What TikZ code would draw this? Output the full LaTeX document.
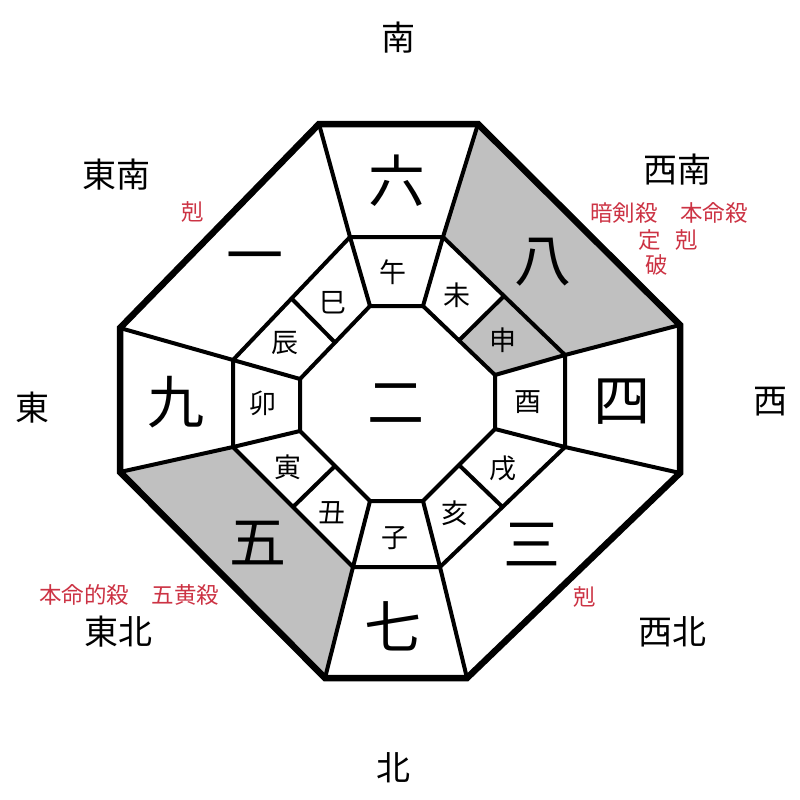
\documentclass[tikz,border=0pt]{standalone}
\usepackage{fontspec}
\usepackage{tikz}
\usetikzlibrary{calc}
\newfontfamily\jpfont{Noto Sans CJK JP}
\definecolor{shadecolor}{RGB}{192,192,192}
\definecolor{signcolor}{RGB}{204,51,68}

\begin{document}
\begin{tikzpicture}[
    x=1pt, y=-1pt,
    frame/.style={line width=6.5pt, line join=miter},
    cell/.style={line width=4pt, line join=miter},
    dir/.style={font=\jpfont\fontsize{34}{34}\selectfont, inner sep=0pt},
    star/.style={font=\jpfont\fontsize{57}{57}\selectfont, inner sep=0pt},
    zodiac/.style={font=\jpfont\fontsize{27}{27}\selectfont, inner sep=0pt},
    sign/.style={text=signcolor, font=\jpfont\fontsize{22.5}{22.5}\selectfont, inner sep=0pt}
]

\useasboundingbox (0,0) rectangle (800,800);

\coordinate (o1) at (319,124);
\coordinate (o2) at (478,124);
\coordinate (o3) at (680,325);
\coordinate (o4) at (680,473);
\coordinate (o5) at (467,678);
\coordinate (o6) at (325,678);
\coordinate (o7) at (120,472);
\coordinate (o8) at (120,328);

\coordinate (m1) at (350,237);
\coordinate (m2) at (443,237);
\coordinate (m3) at (565,355);
\coordinate (m4) at (565,447);
\coordinate (m5) at (440,567);
\coordinate (m6) at (353,567);
\coordinate (m7) at (233,447);
\coordinate (m8) at (233,360);

\coordinate (i1) at (370,306);
\coordinate (i2) at (423,306);
\coordinate (i3) at (495,375);
\coordinate (i4) at (495,429);
\coordinate (i5) at (423,501);
\coordinate (i6) at (370,501);
\coordinate (i7) at (300,431);
\coordinate (i8) at (300,379);

\coordinate (ine) at ($(i2)!0.5!(i3)$);
\coordinate (ise) at ($(i4)!0.5!(i5)$);
\coordinate (isw) at ($(i6)!0.5!(i7)$);
\coordinate (inw) at ($(i8)!0.5!(i1)$);
\coordinate (mne) at ($(m2)!0.5!(m3)$);
\coordinate (mse) at ($(m4)!0.5!(m5)$);
\coordinate (msw) at ($(m6)!0.5!(m7)$);
\coordinate (mnw) at ($(m8)!0.5!(m1)$);

\fill[shadecolor] (o2) -- (o3) -- (m3) -- (m2) -- cycle;
\fill[shadecolor] (o6) -- (o7) -- (m7) -- (m6) -- cycle;
\fill[shadecolor] (ine) -- (i3) -- (m3) -- (mne) -- cycle;

\draw[cell] (i1) -- (i2) -- (i3) -- (i4) -- (i5) -- (i6) -- (i7) -- (i8) -- cycle;
\draw[cell] (m1) -- (m2) -- (m3) -- (m4) -- (m5) -- (m6) -- (m7) -- (m8) -- cycle;

\draw[cell] (i1) -- (m1) -- (o1);
\draw[cell] (i2) -- (m2) -- (o2);
\draw[cell] (i3) -- (m3) -- (o3);
\draw[cell] (i4) -- (m4) -- (o4);
\draw[cell] (i5) -- (m5) -- (o5);
\draw[cell] (i6) -- (m6) -- (o6);
\draw[cell] (i7) -- (m7) -- (o7);
\draw[cell] (i8) -- (m8) -- (o8);

\draw[cell] (ine) -- (mne);
\draw[cell] (ise) -- (mse);
\draw[cell] (isw) -- (msw);
\draw[cell] (inw) -- (mnw);

\draw[frame] (o1) -- (o2) -- (o3) -- (o4) -- (o5) -- (o6) -- (o7) -- (o8) -- cycle;

\node[dir] (south) at (398,38) {南};
\node[dir] (southeast) at (116,175) {東南};
\node[dir] (southwest) at (677,170) {西南};
\node[dir] (east) at (32,408) {東};
\node[dir] (west) at (770,402) {西};
\node[dir] (northeast) at (118,632) {東北};
\node[dir] (northwest) at (672,632) {西北};
\node[dir] (north) at (393,768) {北};

\node[star] (six) at (397,181) {六};
\node[star] (one) at (255,264) {一};
\node[star] (eight) at (543,262) {八};
\node[star] (nine) at (176,402) {九};
\node[star] (four) at (622,402) {四};
\node[star] (five) at (258,543) {五};
\node[star] (three) at (532,545) {三};
\node[star] (seven) at (393,626) {七};
\node[star] (two) at (396,404) {二};

\node[zodiac] (uma) at (393,272) {午};
\node[zodiac] (hitsuji) at (457,295) {未};
\node[zodiac] (saru) at (503,340) {申};
\node[zodiac] (tori) at (528,402) {酉};
\node[zodiac] (inu) at (503,468) {戌};
\node[zodiac] (i) at (455,513) {亥};
\node[zodiac] (ne) at (395,538) {子};
\node[zodiac] (ushi) at (332,513) {丑};
\node[zodiac] (tora) at (288,467) {寅};
\node[zodiac] (u) at (263,403) {卯};
\node[zodiac] (tatsu) at (285,343) {辰};
\node[zodiac] (mi) at (333,303) {巳};

\node[sign] (koku1) at (193,212) {剋};
\node[sign] (southwestsigns) at (669,213) {暗剣殺　本命殺};
\node[sign] (jo) at (650,240) {定};
\node[sign] (koku2) at (687,240) {剋};
\node[sign] (ha) at (657,265) {破};
\node[sign] (northeastsigns) at (129,595) {本命的殺　五黄殺};
\node[sign] (koku3) at (585,597) {剋};

\end{tikzpicture}
\end{document}
